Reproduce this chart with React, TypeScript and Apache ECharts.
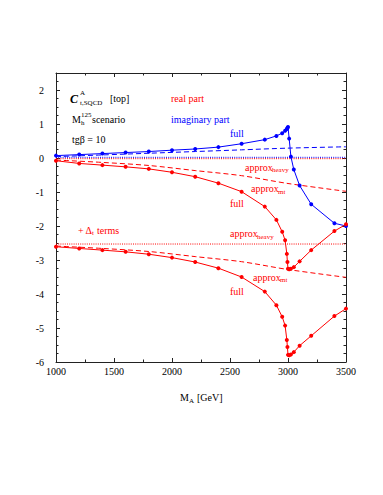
import React, { useEffect, useRef } from "react";
import * as echarts from "echarts";

// ---- data ----
const massFull = [1000, 1200, 1400, 1600, 1800, 2000, 2200, 2400, 2600, 2800, 2900, 2950, 2975, 2990, 2995, 3000, 3010, 3025, 3050, 3100, 3200, 3400, 3500];
const imagFull = [0.07, 0.1, 0.13, 0.16, 0.19, 0.23, 0.265, 0.32, 0.42, 0.54, 0.65, 0.73, 0.8, 0.85, 0.88, 0.91, 0.57, 0.04, -0.34, -0.81, -1.36, -1.92, -2.0];
const realFull = [-0.08, -0.16, -0.21, -0.26, -0.32, -0.42, -0.55, -0.74, -0.99, -1.43, -1.82, -2.17, -2.42, -2.82, -3.06, -3.26, -3.27, -3.26, -3.21, -3.04, -2.71, -2.15, -1.95];
const realFullDt = [-2.61, -2.66, -2.71, -2.76, -2.83, -2.93, -3.06, -3.24, -3.5, -3.93, -4.33, -4.67, -4.93, -5.35, -5.56, -5.79, -5.8, -5.78, -5.71, -5.52, -5.23, -4.65, -4.43];

const massApprox = [1000, 1400, 1800, 2200, 2600, 3000, 3500];
const imagApproxMt = [0.04, 0.09, 0.14, 0.19, 0.24, 0.29, 0.33];
const realApproxMt = [-0.06, -0.13, -0.22, -0.37, -0.52, -0.75, -0.98];
const realApproxMtDt = [-2.59, -2.66, -2.75, -2.9, -3.05, -3.28, -3.51];

const massHeavy = [1000, 3500];
const imagHeavy = [0.02, 0.02];
const realHeavy = [-0.02, -0.02];
const realHeavyDt = [-2.53, -2.53];

const xTicks = { min: 1000, max: 3500, step: 500 };
const yTicks = { min: -6, max: 2.5, step: 1 };

const RED = "#ff0000";
const BLUE = "#0000ff";
const FONT = "Liberation Serif";

const zip = (xs: number[], ys: number[]) => xs.map((x, i) => [x, ys[i]]);

function txt(x: number, y: number, text: string, color = "#000", size = 10, extra: any = {}) {
  return {
    type: "text",
    x,
    y,
    silent: true,
    style: {
      text,
      fill: color,
      font: `${extra.style || ""} ${extra.weight || ""} ${size}px "${FONT}"`,
      textAlign: extra.align || "left",
      textVerticalAlign: "middle",
    },
  };
}

export default function App() {
  const ref = useRef<HTMLDivElement>(null);
  useEffect(() => {
    if (!ref.current) return;
    const chart = echarts.init(ref.current, null, { renderer: "svg" });
    const axisCommon = {
      type: "value",
      axisLine: { show: true, onZero: false, lineStyle: { color: "#222", width: 1 } },
      splitLine: { show: false },
    };
    const lineSeries = (name: string, data: number[][], color: string, kind: "full" | "dash" | "dot") => ({
      name,
      type: "line",
      data,
      symbol: kind === "full" ? "circle" : "none",
      symbolSize: 4,
      showSymbol: kind === "full",
      smooth: kind === "dash" ? 0.3 : false,
      itemStyle: { color },
      lineStyle: {
        color,
        width: 1,
        type: kind === "full" ? "solid" : kind === "dash" ? [5, 3] : [1, 1.2],
      },
      z: kind === "full" ? 3 : 2,
    });
    const option: any = {
      animation: false,
      grid: { left: 56, top: 73, width: 290, height: 289, containLabel: false },
      xAxis: [
        {
          ...axisCommon,
          min: xTicks.min,
          max: xTicks.max,
          interval: xTicks.step,
          position: "bottom",
          axisTick: { show: true, inside: true, length: 4, lineStyle: { color: "#222" } },
          minorTick: { show: true, splitNumber: 2, length: 2.5, lineStyle: { color: "#222" } },
          axisLabel: {
            show: true,
            margin: 4,
            color: "#000",
            fontSize: 10,
            fontFamily: FONT,
            formatter: (v: number) => String(v),
          },
        },
        {
          ...axisCommon,
          min: xTicks.min,
          max: xTicks.max,
          interval: xTicks.step,
          position: "top",
          axisTick: { show: true, inside: true, length: 4, lineStyle: { color: "#222" } },
          minorTick: { show: true, splitNumber: 2, length: 2.5, lineStyle: { color: "#222" } },
          axisLabel: { show: false },
        },
      ],
      yAxis: [
        {
          ...axisCommon,
          min: yTicks.min,
          max: yTicks.max,
          interval: yTicks.step,
          position: "left",
          axisTick: { show: true, inside: true, length: 4, lineStyle: { color: "#222" } },
          minorTick: { show: true, splitNumber: 4, length: 2.5, lineStyle: { color: "#222" } },
          axisLabel: {
            show: true,
            margin: 12,
            color: "#000",
            fontSize: 10,
            fontFamily: FONT,
            formatter: (v: number) => (Number.isInteger(v) ? String(v) : ""),
          },
        },
        {
          ...axisCommon,
          min: yTicks.min,
          max: yTicks.max,
          interval: yTicks.step,
          position: "right",
          axisTick: { show: true, inside: true, length: 4, lineStyle: { color: "#222" } },
          minorTick: { show: true, splitNumber: 4, length: 2.5, lineStyle: { color: "#222" } },
          axisLabel: { show: false },
        },
      ],
      series: [
        lineSeries("imag heavy", zip(massHeavy, imagHeavy), BLUE, "dot"),
        lineSeries("real heavy", zip(massHeavy, realHeavy), RED, "dot"),
        lineSeries("real heavy Dt", zip(massHeavy, realHeavyDt), RED, "dot"),
        lineSeries("imag mt", zip(massApprox, imagApproxMt), BLUE, "dash"),
        lineSeries("real mt", zip(massApprox, realApproxMt), RED, "dash"),
        lineSeries("real mt Dt", zip(massApprox, realApproxMtDt), RED, "dash"),
        lineSeries("imag full", zip(massFull, imagFull), BLUE, "full"),
        lineSeries("real full", zip(massFull, realFull), RED, "full"),
        lineSeries("real full Dt", zip(massFull, realFullDt), RED, "full"),
      ],
      graphic: [
        txt(70, 99, "C", "#000", 12, { style: "italic", weight: "bold" }),
        txt(80, 93, "A", "#000", 7),
        txt(80, 103, "t,SQCD", "#000", 7),
        txt(110, 98, "[top]", "#000", 10),
        txt(72, 119, "M", "#000", 10),
        txt(81, 115, "125", "#000", 7),
        txt(81, 123, "h", "#000", 7),
        txt(92, 119, "scenario", "#000", 10),
        txt(72, 139, "tgβ = 10", "#000", 10),
        txt(171, 98, "real part", RED, 10),
        txt(171, 119, "imaginary part", BLUE, 10),
        txt(230, 133, "full", BLUE, 10),
        txt(245, 167, "approx", RED, 10),
        txt(272, 170, "heavy", RED, 7),
        txt(251, 188, "approx", RED, 10),
        txt(278, 192, "mt", RED, 7),
        txt(230, 203, "full", RED, 10),
        txt(78, 230, "+ Δ", RED, 10),
        txt(92, 233, "t", RED, 7),
        txt(97, 230, "terms", RED, 10),
        txt(230, 233, "approx", RED, 10),
        txt(257, 237, "heavy", RED, 7),
        txt(253, 277, "approx", RED, 10),
        txt(280, 280, "mt", RED, 7),
        txt(230, 291, "full", RED, 10),
        txt(180, 397, "M", "#000", 10),
        txt(189, 401, "A", "#000", 7),
        txt(197, 397, "[GeV]", "#000", 10),
      ],
    };
    chart.setOption(option);
    return () => chart.dispose();
  }, []);
  return <div ref={ref} style={{ width: 383, height: 495, position: "absolute", left: 0, top: 0 }} />;
}
